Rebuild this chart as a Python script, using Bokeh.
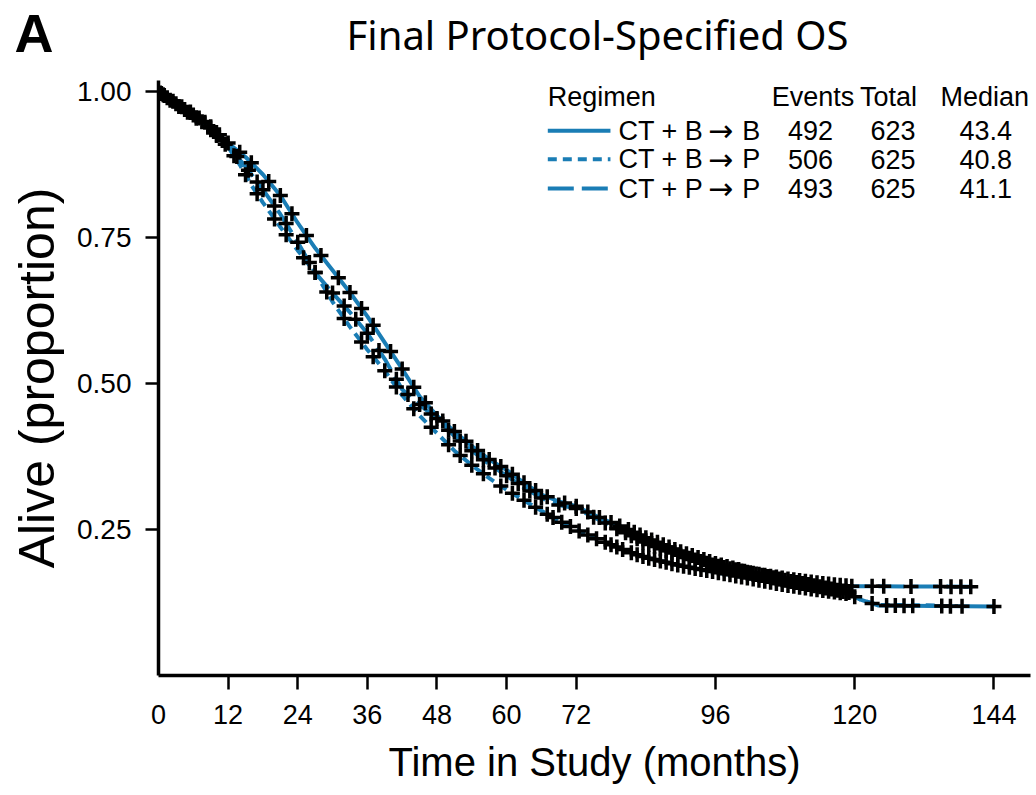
import numpy as np
from bokeh.plotting import figure
from bokeh.layouts import column
from bokeh.models import Range1d, FixedTicker, NumeralTickFormatter, LinearAxis
from bokeh.core.properties import value
from bokeh.embed import file_html
from bokeh.resources import INLINE

BLUE = "#1a7db5"

# ---------------- data ----------------
panel_letter = "A"
title_text = "Final Protocol-Specified OS"
regimens_left = ["CT + B", "CT + B", "CT + P"]
regimens_right = ["B", "P", "P"]
events = [492, 506, 493]
totals = [623, 625, 625]
medians = [43.4, 40.8, 41.1]

x_ticks = [0, 12, 24, 36, 48, 60, 72, 96, 120, 144]
y_ticks = [0.25, 0.50, 0.75, 1.00]

# CT + B -> B (solid)
t_bb = [0, 3, 6, 9, 12, 15, 18, 21, 24, 27, 30, 33, 36, 39, 42, 45, 48, 51, 54, 57, 60,
        63, 66, 69, 72, 75, 78, 81, 84, 90, 96, 102, 108, 114, 119, 121, 124, 144]
s_bb = [1.0, 0.98, 0.962, 0.94, 0.912, 0.888, 0.858, 0.822, 0.775, 0.732, 0.694, 0.656,
        0.615, 0.57, 0.525, 0.478, 0.445, 0.418, 0.393, 0.37, 0.352, 0.33, 0.31, 0.298,
        0.29, 0.275, 0.262, 0.25, 0.236, 0.212, 0.192, 0.176, 0.163, 0.152, 0.142, 0.13,
        0.12, 0.118]
c_bb = [0.5, 1, 2.5, 4, 5.5, 7, 8, 9, 10.5, 12, 14, 16, 19, 21, 23, 25.5, 28, 31, 33, 35,
        37, 40, 42, 44, 46, 49, 51, 53, 55, 57, 59, 61, 63, 65, 67, 70, 72, 74, 76, 78, 79.5,
        81, 82, 83, 84, 85, 86, 87, 88, 89, 90, 91, 92, 93, 94, 95, 96, 97, 98, 99, 100, 101,
        102, 103, 104, 105, 106, 107, 108, 109, 110, 111, 112, 113, 114, 115, 116, 117, 118,
        119, 123, 125.5, 127, 128.5, 130, 135, 136.5, 138.5, 144]

# CT + B -> P (dotted)
t_bp = [0, 3, 6, 9, 12, 14, 16, 18, 21, 24, 27, 30, 33, 36, 39, 42, 45, 48, 51, 54, 57, 60,
        63, 66, 69, 72, 75, 78, 81, 84, 90, 96, 102, 108, 114, 119, 121, 124, 134]
s_bp = [1.0, 0.978, 0.958, 0.935, 0.905, 0.875, 0.84, 0.81, 0.768, 0.728, 0.69, 0.64, 0.597,
        0.558, 0.522, 0.48, 0.445, 0.415, 0.385, 0.36, 0.338, 0.318, 0.3, 0.282, 0.265,
        0.25, 0.236, 0.224, 0.212, 0.202, 0.188, 0.177, 0.166, 0.155, 0.146, 0.14, 0.13,
        0.121, 0.12]
c_bp = [0.3, 2, 3.5, 5, 6.5, 8.5, 10, 11.5, 13, 15, 17, 20, 22, 25, 27, 29, 32, 35, 37, 39,
        41, 44, 47, 50, 52, 54, 56, 59, 61, 63, 65, 67, 68, 69.5, 71, 72.5, 74, 75.5, 77, 78,
        79, 80, 81.5, 82.5, 83.5, 84.5, 85.5, 86.5, 87.5, 88.5, 89.5, 90.5, 91.5, 92.5, 93.5,
        94.5, 95.5, 96.5, 97.5, 98.5, 99.5, 100.5, 101.5, 102.5, 103.5, 104.5, 105.5, 106.5,
        107.5, 108.5, 109.5, 110.5, 111.5, 112.5, 113.5, 114.5, 115.5, 116.5, 117.5, 118.5, 120]

# CT + P -> P (dashed)
t_pp = [0, 3, 6, 9, 12, 15, 18, 21, 24, 27, 30, 33, 36, 39, 42, 45, 48, 51, 54, 57, 60, 63,
        66, 69, 72, 75, 78, 81, 84, 90, 96, 102, 108, 114, 119, 141]
s_pp = [1.0, 0.979, 0.96, 0.937, 0.906, 0.872, 0.832, 0.79, 0.742, 0.69, 0.655, 0.622, 0.586,
        0.542, 0.49, 0.464, 0.44, 0.41, 0.385, 0.362, 0.342, 0.322, 0.304, 0.292, 0.286,
        0.271, 0.256, 0.242, 0.226, 0.205, 0.188, 0.176, 0.166, 0.158, 0.153, 0.152]
c_pp = [0.8, 1.5, 3, 4.5, 6, 7.5, 9.5, 11, 13.5, 15.5, 17, 18, 20, 22, 24, 26, 27, 30, 32, 34,
        36, 38, 41, 43, 45, 47, 48, 50, 52, 54, 56, 58, 60, 62, 64, 66, 69, 72, 75, 77, 79,
        80.5, 81.5, 82.5, 83.5, 84.5, 85.5, 86.5, 87.5, 88.5, 89.5, 90.5, 91.5, 92.5, 93.5,
        94.5, 95.5, 96.5, 97.5, 98.5, 99.5, 100.5, 101.5, 102.5, 103.5, 104.5, 105.5, 106.5,
        107.5, 108.5, 109.5, 110.5, 111.5, 112.5, 113.5, 114.5, 115.5, 116.5, 117.5, 118.5,
        119.5, 123, 125, 129.7, 134.8, 136.6, 138.3, 140]

DASHES = ["solid", "9 6", "26 8"]
curves = [(t_bb, s_bb, c_bb), (t_bp, s_bp, c_bp), (t_pp, s_pp, c_pp)]

SANS = "Liberation Sans"

# ---------------- header (panel letter + title) ----------------
HEAD_H = 64
head = figure(width=1033, height=HEAD_H, x_range=Range1d(158, 1030), y_range=Range1d(HEAD_H, 0),
              output_backend="svg", toolbar_location=None, title=None,
              min_border_left=158, min_border_right=3, min_border_top=0, min_border_bottom=0)
head.xaxis.visible = False
head.grid.visible = False
head.outline_line_color = None
hy = head.yaxis[0]
hy.ticker = FixedTicker(ticks=[36])
hy.major_label_overrides = {36: panel_letter}
hy.axis_line_color = None
hy.major_tick_line_color = None
hy.minor_tick_line_color = None
hy.major_tick_out = 0
hy.major_tick_in = 0
hy.major_label_standoff = 105
hy.major_label_text_font = SANS
hy.major_label_text_font_style = "bold"
hy.major_label_text_font_size = "54px"
hy.major_label_text_color = "black"
head.text(x=[597], y=[34], text=[title_text], text_font=value("Noto Sans"),
          text_font_size="40px", text_align="center", text_baseline="middle", text_color="black")

# ---------------- main plot ----------------
p = figure(width=1033, height=795 - HEAD_H, x_range=Range1d(0, 150.3), y_range=Range1d(0, 1.019),
           output_backend="svg", toolbar_location=None, title=None,
           min_border_left=158, min_border_right=3, min_border_top=80 - HEAD_H,
           min_border_bottom=120)
p.grid.visible = False
p.outline_line_color = None

# bottom axis 1: line + ticks (labels not drawn)
xa = p.xaxis[0]
xa.ticker = FixedTicker(ticks=x_ticks[1:])
xa.major_tick_out = 14
xa.major_tick_in = 0
xa.minor_tick_line_color = None
xa.axis_line_width = 3.5
xa.major_tick_line_width = 2.5
xa.major_label_text_font_size = "0px"
xa.major_label_text_color = None
xa.major_label_standoff = 0

# bottom axis 2: labels + axis title (no line, no ticks)
xl = LinearAxis(ticker=FixedTicker(ticks=x_ticks), axis_line_color=None,
                major_tick_line_color=None, minor_tick_line_color=None,
                major_tick_out=0, major_tick_in=0,
                major_label_standoff=15, major_label_text_font=SANS,
                major_label_text_font_size="27px", major_label_text_color="black",
                axis_label="Time in Study (months)", axis_label_standoff=13,
                axis_label_text_font=SANS, axis_label_text_font_size="40px",
                axis_label_text_font_style="normal", axis_label_text_color="black")
p.add_layout(xl, "below")

ya = p.yaxis[0]
ya.ticker = FixedTicker(ticks=y_ticks)
ya.formatter = NumeralTickFormatter(format="0.00")
ya.major_tick_out = 13
ya.major_tick_in = 0
ya.minor_tick_line_color = None
ya.axis_line_width = 3.5
ya.major_tick_line_width = 2.5
ya.major_label_text_font = SANS
ya.major_label_text_font_size = "28px"
ya.major_label_standoff = 14
ya.major_label_text_color = "black"

# left axis 2: only the axis title
yl = LinearAxis(ticker=FixedTicker(ticks=[]), axis_line_color=None,
                major_tick_line_color=None, minor_tick_line_color=None,
                major_tick_out=0, major_tick_in=0, major_label_text_font_size="0px",
                major_label_text_color=None, major_label_standoff=0,
                axis_label="Alive (proportion)", axis_label_standoff=10,
                axis_label_text_font=SANS, axis_label_text_font_size="50px",
                axis_label_text_font_style="normal", axis_label_text_color="black")
p.add_layout(yl, "left")

# curves and censor marks
for (t, s, c), dash in zip(curves, DASHES):
    p.line(t, s, line_color=BLUE, line_width=4, line_dash=dash)
for (t, s, c) in curves:
    cy = np.interp(c, t, s)
    p.scatter(c, cy, marker="cross", size=15, line_width=3.5, line_color="black")

# legend table
hdr_y = 0.991
row_y = [0.933, 0.884, 0.834]
tf = value(SANS)
FS = "27px"
p.text(x=[67.1, 105.7, 120.9, 134.8], y=[hdr_y] * 4,
       text=["Regimen", "Events", "Total", "Median"], text_font=tf, text_font_size=FS,
       text_baseline="middle", text_align="left", text_color="black")
for i in range(3):
    p.line([67.1, 77.9], [row_y[i], row_y[i]], line_color=BLUE, line_width=4,
           line_dash=DASHES[i])
p.text(x=[79.3] * 3, y=row_y, text=regimens_left, text_font=tf, text_font_size=FS,
       text_baseline="middle", text_align="left", text_color="black")
p.text(x=[96.9] * 3, y=row_y, text=["\u2192"] * 3, text_font=value("DejaVu Sans"),
       text_font_size="30px", text_baseline="middle", text_align="center", text_color="black")
p.text(x=[100.6] * 3, y=row_y, text=regimens_right, text_font=tf, text_font_size=FS,
       text_baseline="middle", text_align="left", text_color="black")
p.text(x=[112.4] * 3, y=row_y, text=[str(v) for v in events], text_font=tf,
       text_font_size=FS, text_baseline="middle", text_align="center", text_color="black")
p.text(x=[126.6] * 3, y=row_y, text=[str(v) for v in totals], text_font=tf,
       text_font_size=FS, text_baseline="middle", text_align="center", text_color="black")
p.text(x=[142.6] * 3, y=row_y, text=[f"{v:.1f}" for v in medians], text_font=tf,
       text_font_size=FS, text_baseline="middle", text_align="center", text_color="black")

layout = column(head, p, spacing=0)
open("out.html", "w").write(file_html(layout, INLINE))
